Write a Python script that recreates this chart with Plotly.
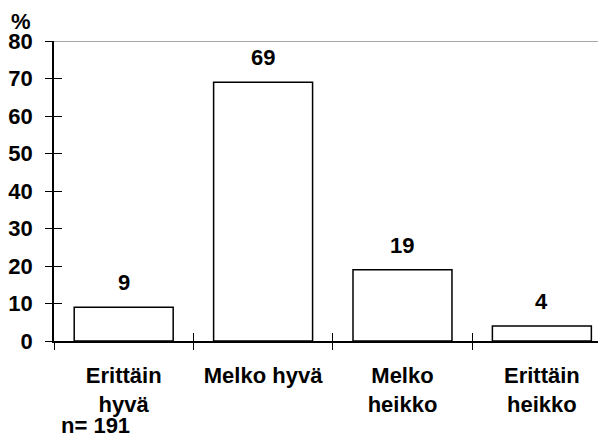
import plotly.graph_objects as go

categories = ["Erittäin<br>hyvä", "Melko hyvä", "Melko<br>heikko", "Erittäin<br>heikko"]
values = [9, 69, 19, 4]
y_ticks = [0, 10, 20, 30, 40, 50, 60, 70, 80]

FONT = "Liberation Sans, Arial, sans-serif"
fsize = 22

fig = go.Figure()
fig.add_trace(go.Bar(
    x=categories, y=values, width=0.71,
    marker=dict(color="white", line=dict(color="black", width=1.5)),
    hoverinfo="skip",
))
# invisible helper trace to carry the inside-tick axes
fig.add_trace(go.Scatter(
    x=categories, y=values, xaxis="x2", yaxis="y2", mode="markers",
    marker=dict(opacity=0), hoverinfo="skip", showlegend=False,
))

for c, v in zip(categories, values):
    fig.add_annotation(x=c, y=v, text=str(v), showarrow=False, yanchor="bottom",
                       yshift=10, font=dict(family=FONT, size=fsize, color="black", weight="bold"))

fig.add_shape(type="line", xref="paper", yref="y", x0=0, x1=1, y0=80, y1=80,
              line=dict(color="#888888", width=1.5))

fig.add_annotation(xref="paper", yref="paper", x=-0.08, y=1.0, xanchor="left", yanchor="bottom",
                   yshift=6, borderpad=0, text="%", showarrow=False,
                   font=dict(family=FONT, size=fsize, color="black", weight="bold"))
fig.add_annotation(xref="paper", yref="paper", x=0.01, y=0, xanchor="left", yanchor="top",
                   yshift=-71, borderpad=0, text="n= 191", showarrow=False,
                   font=dict(family=FONT, size=fsize, color="black", weight="bold"))

axis_common_x = dict(range=[-0.5, 3.46], type="category")
fig.update_layout(
    width=598, height=431,
    margin=dict(l=46, r=0, t=33, b=98, autoexpand=False),
    paper_bgcolor="white", plot_bgcolor="white",
    showlegend=False,
    xaxis=dict(**axis_common_x, showline=True, linecolor="black", linewidth=1.5,
               ticks="outside", ticklen=7, tickwidth=1, tickcolor="black", tickson="boundaries",
               showgrid=False, zeroline=False, ticklabelstandoff=14, automargin=False,
               tickfont=dict(family=FONT, size=fsize, color="black", weight="bold")),
    yaxis=dict(range=[0, 80], tickvals=y_ticks, showline=True, linecolor="black", linewidth=1.5,
               ticks="outside", ticklen=7, tickwidth=1, tickcolor="black", automargin=False,
               showgrid=False, zeroline=False, ticklabelstandoff=8,
               tickfont=dict(family=FONT, size=fsize, color="black", weight="bold")),
    xaxis2=dict(**axis_common_x, overlaying="x", matches="x", ticks="inside", ticklen=8,
                tickwidth=1, tickcolor="black", tickson="boundaries", showticklabels=False,
                showgrid=False, zeroline=False, showline=False, automargin=False),
    yaxis2=dict(range=[0, 80], overlaying="y", tickvals=y_ticks, ticks="inside", ticklen=8,
                tickwidth=1, tickcolor="black", showticklabels=False, showgrid=False,
                zeroline=False, showline=False, side="left", automargin=False),
)

fig.write_html("out.html")
